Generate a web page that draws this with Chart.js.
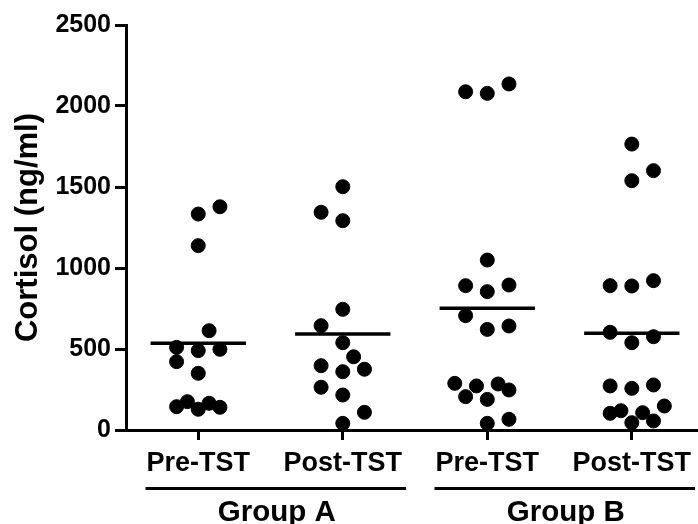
<!DOCTYPE html>
<html lang="en">
<head>
    <meta charset="UTF-8">
    <title>Cortisol Pre/Post TST</title>
    <style>
        html, body {
            margin: 0;
            padding: 0;
            background-color: #fff;
            overflow: hidden;
        }
        .chart-container {
            position: relative;
            width: 698px;
            height: 524px;
        }
        canvas {
            display: block;
        }
    </style>
    <script src="https://cdn.jsdelivr.net/npm/chart.js@4.4.0/dist/chart.umd.min.js"></script>
</head>
<body>
    <div class="chart-container">
        <canvas id="cortisolChart" width="698" height="524"></canvas>
    </div>

    <script>
        // Categories and groups
        const categories = ['Pre-TST', 'Post-TST', 'Pre-TST', 'Post-TST'];
        const groups = ['Group A', 'Group B'];
        const groupCategories = [[0, 1], [2, 3]];
        const yTicks = [0, 500, 1000, 1500, 2000, 2500];

        // Cortisol values (ng/ml), with the column slot of each dot
        const preA = [1378, 1333, 1138, 613, 510, 490, 498, 422, 350, 144, 175, 128, 165, 140];
        const preASlot = [1, 0, 0, 0.5, -1, 0, 1, -1, 0, -1, -0.5, 0, 0.5, 1];

        const postA = [1502, 1344, 1292, 745, 644, 539, 452, 397, 360, 375, 264, 216, 109, 41];
        const postASlot = [0, -1, 0, 0, -1, 0, 0.5, -1, 0, 1, -1, 0, 1, 0];

        const preB = [2088, 2078, 2136, 1049, 891, 854, 895, 706, 621, 642, 288, 206, 272, 189, 284, 247, 41, 66];
        const preBSlot = [-1, 0, 1, 0, -1, 0, 1, -1, 0, 1, -1.5, -1, -0.5, 0, 0.5, 1, 0, 1];

        const postB = [1765, 1601, 1539, 891, 889, 922, 603, 539, 576, 272, 257, 278, 103, 119, 107, 148, 45, 56];
        const postBSlot = [0, 1, 0, -1, 0, 1, -1, 0, 1, -1, 0, 1, -1, -0.5, 0.5, 1.5, 0, 1];

        // Mean of each column (horizontal bar)
        const means = [535, 593, 751, 597];

        const seriesValues = [preA, postA, preB, postB];
        const seriesSlots = [preASlot, postASlot, preBSlot, postBSlot];

        const FONT = 'Arial, "Liberation Sans", Helvetica, sans-serif';
        const slotWidth = 0.15;
        const meanHalf = 0.33;

        const datasets = [];
        seriesValues.forEach(function(values, i) {
            datasets.push({
                type: 'scatter',
                data: values.map(function(v, j) {
                    return { x: i + 1 + seriesSlots[i][j] * slotWidth, y: v };
                }),
                backgroundColor: '#000',
                borderColor: '#000',
                pointRadius: 7,
                pointHoverRadius: 7,
                clip: false
            });
        });
        means.forEach(function(m, i) {
            datasets.push({
                type: 'line',
                data: [{ x: i + 1 - meanHalf, y: m }, { x: i + 1 + meanHalf, y: m }],
                borderColor: '#000',
                borderWidth: 3.5,
                pointRadius: 0,
                fill: false,
                clip: false
            });
        });

        // Group labels with an underline under each pair of categories
        const groupLabels = {
            id: 'groupLabels',
            afterDraw(chart) {
                const ctx = chart.ctx;
                const x = chart.scales.x;
                ctx.save();
                ctx.fillStyle = '#000';
                ctx.strokeStyle = '#000';
                groups.forEach(function(name, g) {
                    const cats = groupCategories[g];
                    ctx.font = 'bold 27px ' + FONT;
                    const first = x.getPixelForValue(cats[0] + 1);
                    const last = x.getPixelForValue(cats[cats.length - 1] + 1);
                    const left = first - ctx.measureText(categories[cats[0]]).width / 2 - 1;
                    const right = last + ctx.measureText(categories[cats[cats.length - 1]]).width / 2 + 4;
                    ctx.lineWidth = 3;
                    ctx.beginPath();
                    ctx.moveTo(left, 488.5);
                    ctx.lineTo(right, 488.5);
                    ctx.stroke();
                    ctx.font = 'bold 29.5px ' + FONT;
                    ctx.textAlign = 'center';
                    ctx.textBaseline = 'alphabetic';
                    ctx.fillText(name, (left + right) / 2 + 1, 521);
                });
                ctx.restore();
            }
        };

        const ctx = document.getElementById('cortisolChart').getContext('2d');
        new Chart(ctx, {
            data: { datasets: datasets },
            plugins: [groupLabels],
            options: {
                responsive: false,
                animation: false,
                devicePixelRatio: 1,
                layout: {
                    autoPadding: false,
                    padding: { top: 25, right: 0, bottom: 0, left: 0 }
                },
                plugins: {
                    legend: { display: false },
                    tooltip: { enabled: false }
                },
                scales: {
                    x: {
                        type: 'linear',
                        min: 0.5,
                        max: 4.458,
                        afterFit(scale) {
                            scale.height = 94;
                            scale.paddingLeft = 0;
                            scale.paddingRight = 0;
                        },
                        afterBuildTicks(scale) {
                            scale.ticks = categories.map(function(c, i) { return { value: i + 1 }; });
                        },
                        grid: {
                            drawOnChartArea: false,
                            drawTicks: true,
                            tickLength: 10,
                            tickWidth: 3,
                            tickColor: '#000'
                        },
                        border: { display: true, width: 3, color: '#000' },
                        ticks: {
                            color: '#000',
                            padding: 7,
                            maxRotation: 0,
                            autoSkip: false,
                            font: { family: FONT, size: 27, weight: 'bold' },
                            callback: function(value) { return categories[Math.round(value) - 1]; }
                        }
                    },
                    y: {
                        min: 0,
                        max: 2500,
                        afterFit(scale) {
                            scale.width = 126;
                            scale.paddingTop = 0;
                            scale.paddingBottom = 0;
                        },
                        afterBuildTicks(scale) {
                            scale.ticks = yTicks.map(function(v) { return { value: v }; });
                        },
                        grid: {
                            drawOnChartArea: false,
                            drawTicks: true,
                            tickLength: 11,
                            tickWidth: 3,
                            tickColor: '#000'
                        },
                        border: { display: true, width: 3, color: '#000' },
                        ticks: {
                            color: '#000',
                            padding: 4,
                            font: { family: FONT, size: 25, weight: 'bold' },
                            callback: function(value) { return String(value); }
                        },
                        title: {
                            display: true,
                            text: 'Cortisol (ng/ml)',
                            color: '#000',
                            padding: { top: 9.5, bottom: 0 },
                            font: { family: FONT, size: 31, weight: 'bold' }
                        }
                    }
                }
            }
        });
    </script>
</body>
</html>
